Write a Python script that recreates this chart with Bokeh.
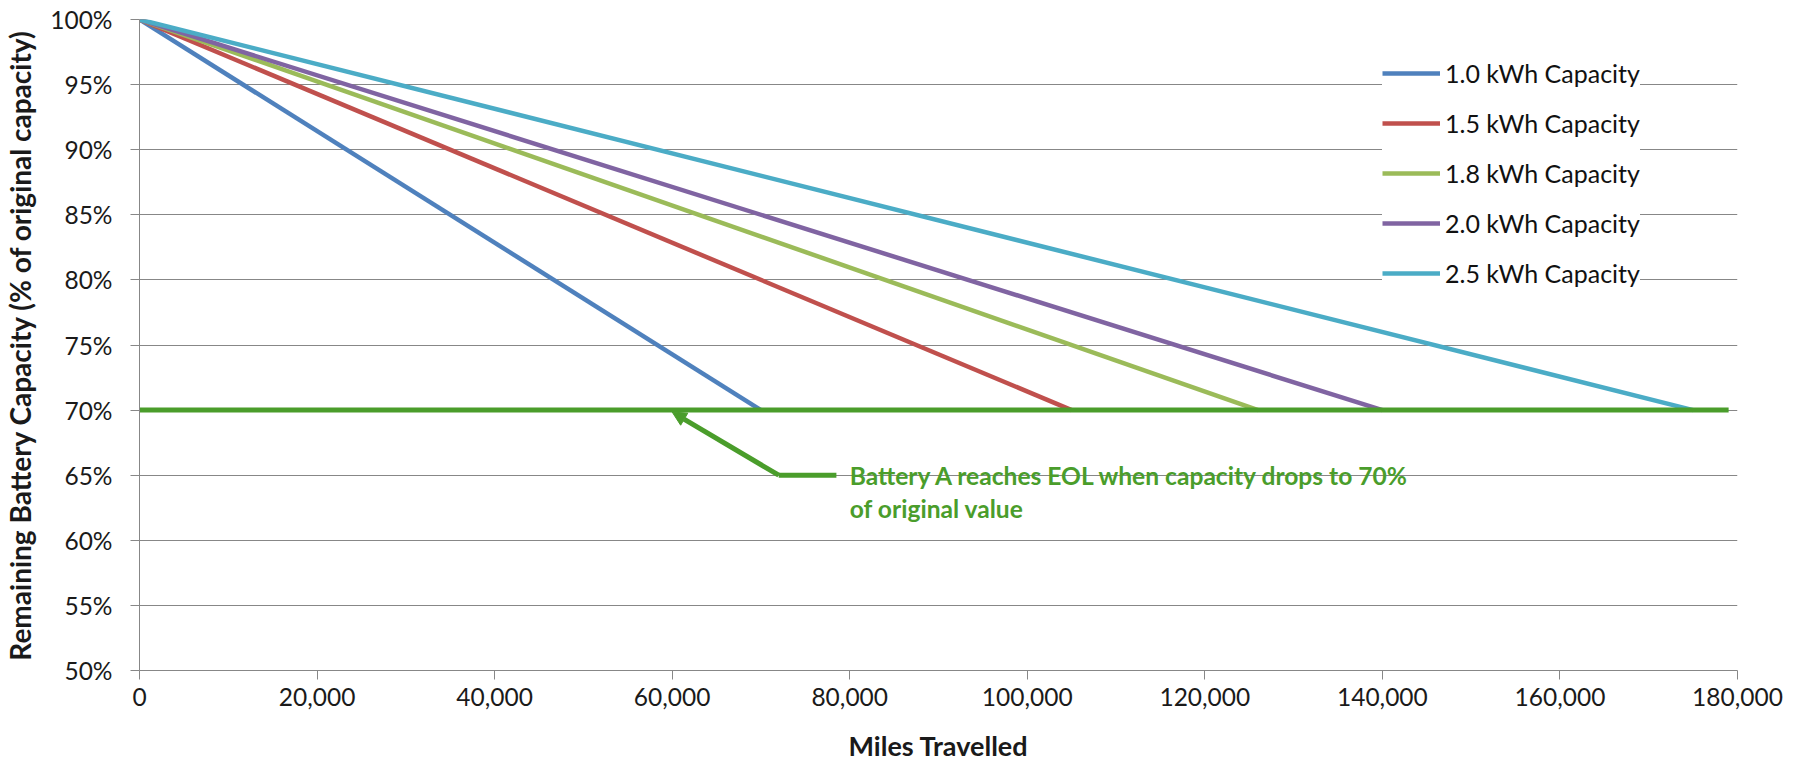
from bokeh.plotting import figure
from bokeh.models import (Range1d, FixedTicker, NumeralTickFormatter, PrintfTickFormatter,
                          Legend, LegendItem, Label, Arrow, NormalHead)
from bokeh.embed import file_html
from bokeh.resources import INLINE

# ---- data ----
series_names = ["1.0 kWh Capacity", "1.5 kWh Capacity", "1.8 kWh Capacity",
                "2.0 kWh Capacity", "2.5 kWh Capacity"]
series_colors = ["#4F81BD", "#C0504D", "#9BBB59", "#8064A2", "#4BACC6"]
miles_1_0 = [0, 70000]
miles_1_5 = [0, 105000]
miles_1_8 = [0, 126000]
miles_2_0 = [0, 140000]
miles_2_5 = [0, 175000]
capacity_pct = [100, 70]
series_miles = [miles_1_0, miles_1_5, miles_1_8, miles_2_0, miles_2_5]

eol_x = [0, 179000]
eol_y = [70, 70]

callout_x = [78500, 72000]
callout_y = [65, 65]
arrow_start = (72000, 65)
arrow_end = (60000, 69.85)
callout_text_x = 80000
callout_text_y = 65
callout_lines = ["Battery A reaches EOL when capacity drops to 70%", "of original value"]

x_ticks = list(range(0, 180001, 20000))
y_ticks = list(range(50, 101, 5))
x_title = "Miles Travelled"
y_title = "Remaining Battery Capacity (% of original capacity)"

GREEN = "#4A9D2B"
GRID = "#878787"
FONT = "Lato"
TXT = "#1a1a1a"

p = figure(width=1796, height=764, output_backend="svg", toolbar_location=None,
           x_range=Range1d(0, 180000), y_range=Range1d(50, 100),
           min_border_left=139, min_border_right=59, min_border_top=19, min_border_bottom=92)
p.outline_line_color = None
p.background_fill_color = "white"
p.border_fill_color = "white"

renderers = []
for xs, c in zip(series_miles, series_colors):
    r = p.line(xs, capacity_pct, line_color=c, line_width=4.5)
    renderers.append(r)

p.line(eol_x, eol_y, line_color=GREEN, line_width=5)
p.line(callout_x, callout_y, line_color=GREEN, line_width=5)
p.add_layout(Arrow(end=NormalHead(size=14, fill_color=GREEN, line_color=GREEN, line_width=1),
                   x_start=arrow_start[0], y_start=arrow_start[1],
                   x_end=arrow_end[0], y_end=arrow_end[1],
                   line_color=GREEN, line_width=5))

for i, t in enumerate(callout_lines):
    p.add_layout(Label(x=callout_text_x, y=callout_text_y, y_offset=-33 * i, text=t,
                       text_font=FONT, text_font_style="bold", text_font_size="24.6px",
                       text_color=GREEN, text_baseline="middle", text_align="left"))

# axes
for ax in (p.xaxis[0], p.yaxis[0]):
    ax.axis_line_color = GRID
    ax.major_tick_line_color = GRID
    ax.major_tick_in = 0
    ax.major_tick_out = 9
    ax.minor_tick_line_color = None
    ax.major_label_text_font = FONT
    ax.major_label_text_font_size = "24.5px"
    ax.major_label_text_color = TXT
    ax.axis_label_text_font = FONT
    ax.axis_label_text_font_style = "bold"
    ax.axis_label_text_color = TXT

p.xaxis[0].ticker = FixedTicker(ticks=x_ticks)
p.xaxis[0].formatter = NumeralTickFormatter(format="0,0")
p.xaxis[0].axis_label = x_title
p.xaxis[0].axis_label_text_font_size = "27px"
p.xaxis[0].major_label_standoff = 8
p.xaxis[0].axis_label_standoff = 20

p.yaxis[0].ticker = FixedTicker(ticks=y_ticks)
p.yaxis[0].formatter = PrintfTickFormatter(format="%d%%")
p.yaxis[0].axis_label = y_title
p.yaxis[0].axis_label_text_font_size = "28px"
p.yaxis[0].major_label_standoff = 18
p.yaxis[0].axis_label_standoff = 10

p.xgrid.grid_line_color = None
p.ygrid.grid_line_color = GRID
p.ygrid.grid_line_width = 1
p.ygrid.ticker = FixedTicker(ticks=y_ticks)

legend = Legend(items=[LegendItem(label=n, renderers=[r]) for n, r in zip(series_names, renderers)],
                location=(1243, 381), padding=20, margin=0, spacing=18,
                glyph_width=58, glyph_height=32, label_height=32, label_standoff=5,
                label_text_font=FONT, label_text_font_size="25px", label_text_color="#111111",
                background_fill_color="white", background_fill_alpha=1.0,
                border_line_color=None)
p.add_layout(legend)

open("out.html", "w").write(file_html(p, INLINE))
